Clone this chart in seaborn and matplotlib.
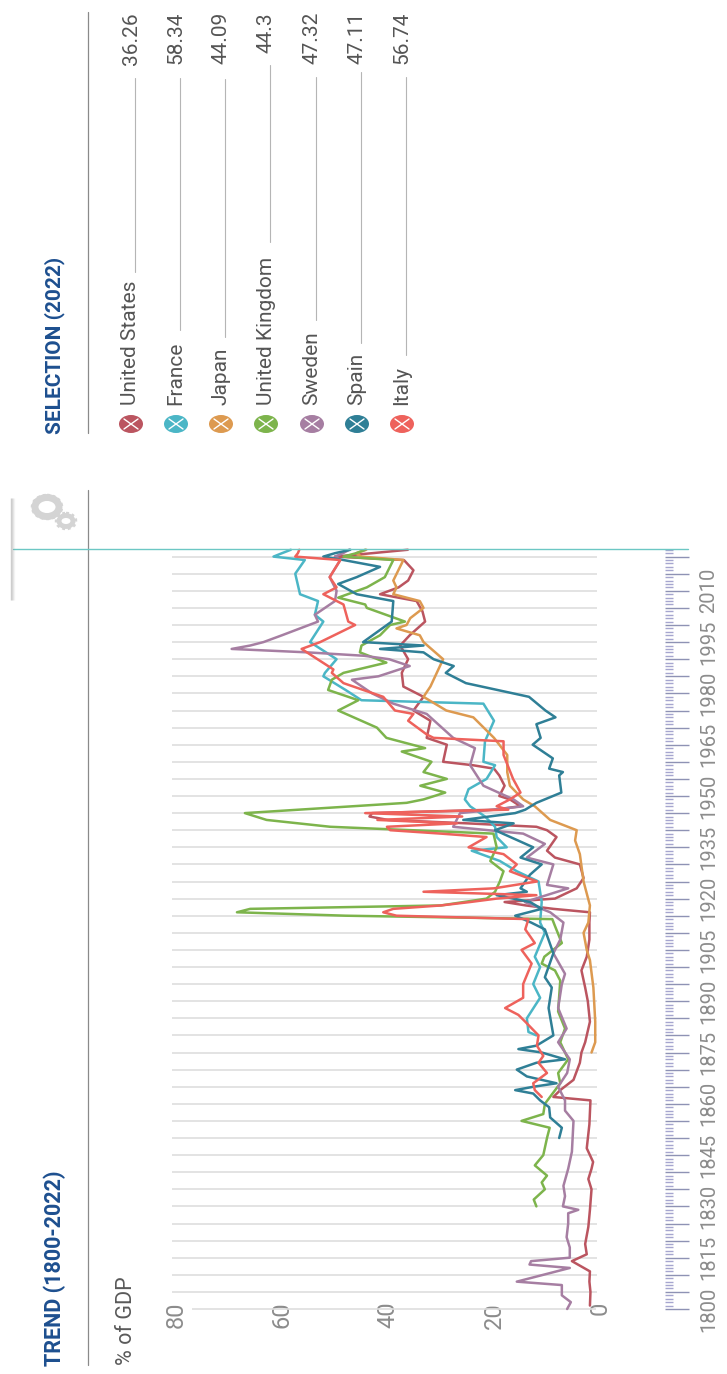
import matplotlib
matplotlib.use("Agg")
import numpy as np
import pandas as pd
import matplotlib.pyplot as plt
import seaborn as sns
from matplotlib.patches import Ellipse

# series, (year, % of GDP)
us_years = [1801, 1805, 1808, 1811, 1814, 1816, 1819, 1824, 1829, 1835, 1838, 1841, 1843, 1847, 1854, 1861, 1862, 1864, 1867, 1872, 1875, 1878, 1884, 1890, 1894, 1899, 1903, 1908, 1913, 1916, 1917, 1918, 1919, 1920, 1923, 1926, 1930, 1932, 1934, 1938, 1940, 1941, 1942, 1943, 1944, 1945, 1946, 1947, 1949, 1950, 1953, 1956, 1958, 1959, 1960, 1965, 1967, 1972, 1975, 1979, 1982, 1986, 1990, 1994, 1997, 2001, 2004, 2007, 2009, 2011, 2013, 2016, 2019, 2020, 2021, 2022]
us_vals = [1.9, 1.8, 2.0, 1.9, 5.3, 2.5, 2.8, 2.2, 1.9, 1.6, 2.2, 1.6, 1.3, 2.5, 2.0, 1.8, 8.8, 7.5, 5.0, 3.8, 3.5, 2.8, 1.9, 2.3, 2.8, 3.5, 2.5, 2.0, 2.0, 1.9, 8.8, 14, 18, 8.5, 4.4, 3.1, 3.8, 8.5, 10, 8.2, 10, 12, 25, 40, 43.5, 43, 20, 15, 17, 19, 18, 19, 20, 24, 29.6, 28.9, 32.7, 32, 35.2, 33.3, 37.1, 37.4, 36.2, 37.7, 35.9, 33, 33.5, 34.6, 41.5, 38, 36.2, 35.2, 37, 50, 43, 36.26]

france_years = [1880, 1881, 1885, 1891, 1895, 1900, 1903, 1910, 1913, 1919, 1925, 1928, 1931, 1934, 1935, 1938, 1941, 1944, 1947, 1949, 1952, 1955, 1959, 1960, 1966, 1972, 1977, 1978, 1981, 1985, 1986, 1990, 1995, 2001, 2003, 2007, 2009, 2015, 2019, 2020, 2021, 2022]
france_vals = [12, 13.5, 13.8, 11.3, 12.6, 11.3, 12.3, 10.4, 11.3, 11, 11.6, 15.7, 18.9, 24.2, 17.6, 19.5, 19.8, 21.7, 24.5, 25.5, 24.8, 21.4, 19.8, 22, 21.7, 20, 22, 45, 48, 52.2, 51.9, 49.7, 54.7, 52.2, 53.8, 53.2, 56.6, 57.5, 55.7, 61.6, 60, 58.34]

japan_years = [1875, 1878, 1884, 1894, 1902, 1905, 1910, 1913, 1918, 1925, 1933, 1937, 1940, 1943, 1947, 1949, 1953, 1957, 1962, 1967, 1973, 1975, 1979, 1982, 1986, 1990, 1995, 1997, 1999, 2000, 2002, 2005, 2007, 2009, 2011, 2013, 2019, 2020, 2021, 2022]
japan_vals = [1.6, 0.9, 0.9, 1.25, 1.9, 2.5, 3.1, 2.2, 1.9, 3.1, 3.8, 4.7, 4.4, 9.4, 12.3, 14.5, 17, 17.5, 17.5, 20, 23.9, 29, 33.3, 32, 30.8, 29.6, 33.3, 34, 38.4, 36.5, 35.8, 33.3, 34, 39, 38.4, 39, 37.1, 45, 46, 44.09]

uk_years = [1830, 1832, 1835, 1837, 1839, 1842, 1845, 1850, 1853, 1855, 1857, 1860, 1866, 1869, 1873, 1878, 1882, 1887, 1896, 1899, 1901, 1903, 1907, 1912, 1914, 1915, 1916, 1917, 1918, 1920, 1922, 1925, 1928, 1931, 1935, 1939, 1941, 1943, 1945, 1948, 1949, 1951, 1953, 1955, 1957, 1960, 1963, 1964, 1967, 1970, 1975, 1978, 1981, 1984, 1986, 1989, 1992, 1994, 1997, 2000, 2001, 2005, 2006, 2008, 2011, 2014, 2019, 2020, 2021, 2022]
uk_vals = [12, 12.5, 10.4, 11, 10, 12.3, 10.7, 10, 9.5, 14.8, 10.7, 10.4, 7.5, 7.9, 6, 7.5, 6.6, 7.9, 7.5, 8.5, 11, 10.5, 7.2, 8.5, 9, 48, 68.5, 66, 30, 21.4, 19.8, 18.9, 18.2, 20.7, 19.5, 20.1, 50.9, 62.9, 67, 36.5, 33.3, 29.2, 33.9, 28.9, 33.3, 31.8, 37.4, 33, 40.3, 42.1, 49.4, 45.6, 51.3, 50.6, 48.4, 40.3, 45.3, 45, 41.5, 39.6, 36.8, 44, 44.3, 49.4, 44, 40.6, 39, 48.4, 46, 44.3]

sweden_years = [1800, 1802, 1804, 1807, 1808, 1812, 1813, 1814, 1815, 1818, 1821, 1825, 1828, 1829, 1830, 1833, 1836, 1841, 1846, 1855, 1858, 1861, 1865, 1869, 1873, 1878, 1882, 1888, 1895, 1898, 1904, 1908, 1913, 1916, 1919, 1923, 1924, 1930, 1932, 1936, 1939, 1941, 1945, 1946, 1947, 1949, 1953, 1959, 1964, 1967, 1974, 1977, 1980, 1984, 1985, 1988, 1990, 1991, 1992, 1993, 1994, 1995, 1997, 1999, 2001, 2003, 2007, 2010, 2014, 2019, 2020, 2021, 2022]
sweden_vals = [6.2, 5.5, 7.2, 7.2, 15.7, 5.7, 13.3, 13, 5.7, 5.7, 6.3, 6, 6, 4.1, 7, 6.6, 6.9, 6, 5.3, 5, 6.6, 6.6, 7.9, 6.2, 5.7, 7.9, 6.3, 7.9, 7.2, 6.6, 8.8, 7.5, 6.9, 9.4, 14.2, 6, 10, 8.8, 13.8, 10.4, 14.5, 27.7, 26.4, 20, 14.5, 16.3, 22, 24.5, 23.6, 27.7, 32.7, 39, 43, 46.8, 41.8, 35.9, 39.8, 44.5, 55.2, 69.5, 66, 63.5, 60, 56.6, 53.2, 53.8, 50, 49.7, 51, 49, 50, 48.5, 47.32]

spain_years = [1850, 1853, 1856, 1859, 1861, 1863, 1864, 1865, 1866, 1868, 1870, 1872, 1873, 1875, 1876, 1877, 1880, 1888, 1894, 1897, 1904, 1911, 1913, 1915, 1917, 1919, 1921, 1922, 1923, 1927, 1930, 1932, 1935, 1940, 1942, 1943, 1945, 1946, 1948, 1951, 1956, 1957, 1958, 1961, 1965, 1967, 1971, 1973, 1975, 1979, 1983, 1986, 1988, 1990, 1992, 1993, 1994, 1995, 2001, 2007, 2009, 2012, 2014, 2017, 2019, 2020, 2021, 2022]
spain_vals = [7.7, 7.2, 9.4, 9.6, 11.3, 12.6, 16, 12.5, 8.2, 13.8, 15.7, 12, 6.6, 11, 15.4, 12, 8.8, 9.7, 9.1, 10.4, 8.8, 10.4, 13, 16, 11, 13.2, 19.5, 13.8, 15, 13.2, 11, 15, 12.6, 19.8, 16.3, 25.8, 16, 14.1, 12, 7.3, 7.7, 7, 9.6, 8.9, 12.7, 11.2, 12, 8.4, 10.3, 13.4, 25.3, 29.1, 27.6, 31.4, 33.3, 41.5, 33.3, 44.7, 39.3, 39, 45.9, 49.4, 45.9, 41.5, 48.4, 52.2, 50, 47.11]

italy_years = [1862, 1864, 1866, 1869, 1872, 1874, 1877, 1880, 1884, 1886, 1888, 1891, 1895, 1901, 1905, 1907, 1911, 1914, 1915, 1916, 1917, 1918, 1919, 1920, 1921, 1922, 1923, 1925, 1928, 1930, 1933, 1935, 1938, 1939, 1940, 1941, 1942, 1943, 1944, 1945, 1946, 1947, 1949, 1951, 1955, 1962, 1966, 1967, 1968, 1972, 1974, 1975, 1979, 1983, 1986, 1987, 1993, 1995, 2000, 2001, 2006, 2009, 2011, 2014, 2019, 2020, 2021, 2022]
italy_vals = [11, 12.3, 12.6, 10, 11.6, 10.7, 11.9, 11.6, 14.1, 15.4, 17.9, 14.5, 14.5, 12.9, 14.8, 12.3, 14.1, 13.5, 38.4, 40.9, 39, 30, 24.5, 19.5, 12, 33.3, 20, 11.9, 17, 15.7, 18.2, 24.8, 21.4, 30, 39.6, 40.2, 27, 42, 26, 44.3, 17.3, 19.5, 17, 15, 16.4, 18.2, 18.2, 31.4, 32.7, 36.2, 35.2, 38.7, 40.9, 48.4, 50.6, 50.3, 56.3, 52.8, 46.2, 47.5, 48.4, 52.2, 49.7, 51, 49, 57.5, 57, 56.74]

countries = ["United States", "France", "Japan", "United Kingdom", "Sweden", "Spain", "Italy"]
latest = ["36.26", "58.34", "44.09", "44.3", "47.32", "47.11", "56.74"]
colors = ["#bb5560", "#4bb6c6", "#dd9a50", "#7db44c", "#a67ea2", "#2f7f96", "#ee625c"]
value_ticks = [80, 60, 40, 20, 0]
year_ticks = list(range(1800, 2021, 5))
all_years = list(range(1800, 2023))

W, H = 727, 1374
PX_PER_PCT = 5.3
PX_PER_YEAR = 3.42
X0, Y1800 = 600, 1309

sns.set_theme(style="white")
plt.rcParams["font.family"] = ["Roboto", "DejaVu Sans"]

frames = []
series = [(us_years, us_vals), (france_years, france_vals), (japan_years, japan_vals), (uk_years, uk_vals),
          (sweden_years, sweden_vals), (spain_years, spain_vals), (italy_years, italy_vals)]
for name, (yrs, vals) in zip(countries, series):
    frames.append(pd.DataFrame({"year": yrs, "value": vals, "country": name}))
df = pd.concat(frames)

fig = plt.figure(figsize=(W / 100, H / 100), dpi=100)

# chart axes, placed in pixels of the picture; the whole thing reads rotated by 90 degrees
left, right, top, bottom = 165, 665, 540, 1315
ax = fig.add_axes([left / W, 1 - bottom / H, (right - left) / W, (bottom - top) / H])
ax.set_xlim((X0 - left) / PX_PER_PCT, (X0 - right) / PX_PER_PCT)
ax.set_ylim(1800 + (Y1800 - bottom) / PX_PER_YEAR, 1800 + (Y1800 - top) / PX_PER_YEAR)

ax.hlines(year_ticks[1:], 0.5, 80.8, color="#dedede", lw=1.2, zorder=1)
ax.hlines(1800, 0.7, 77, color="#dedede", lw=1.2, zorder=1)

sns.lineplot(data=df, x="value", y="year", hue="country", palette=colors, hue_order=countries,
             orient="y", estimator=None, lw=1.8, legend=False, ax=ax)

sns.despine(ax=ax, left=True, right=True, top=True, bottom=True)
ax.set_xlabel("")
ax.set_ylabel("")

ax.set_xticks(value_ticks)
ax.set_xticklabels([str(v) for v in value_ticks])
ax.tick_params(axis="x", length=0, labelrotation=90, pad=-9.5, labelsize=17, labelcolor="#8c8c8c")
for lab in ax.get_xticklabels():
    lab.set_bbox(dict(facecolor="white", edgecolor="none", pad=1.0))

ax.yaxis.tick_right()
ax.set_yticks(year_ticks)
ax.set_yticklabels([str(y) if (y - 1800) % 15 == 0 else "" for y in year_ticks], rotation=90, va="center")
ax.set_yticks(all_years, minor=True)
ax.tick_params(axis="y", which="major", length=17.5, width=1.0, color="#8e92b4", pad=7, labelsize=14.5, labelcolor="#8c8c8c", right=True)
ax.tick_params(axis="y", which="minor", length=6, width=1.0, color="#a6a6cf", right=True)

# overlay in pixel coordinates for the header, rules and the selection list
ov = fig.add_axes([0, 0, 1, 1], facecolor="none")
ov.set_xlim(0, W)
ov.set_ylim(H, 0)
ov.axis("off")

navy = "#1d4f8f"
ov.text(55, 1366, "TREND (1800-2022)", rotation=90, ha="center", va="bottom", color=navy,
        fontsize=15.5, fontweight="bold")
ov.text(55, 434, "SELECTION (2022)", rotation=90, ha="center", va="bottom", color=navy,
        fontsize=15, fontweight="bold")
ov.text(127, 1365, "% of GDP", rotation=90, ha="center", va="bottom", color="#5a5a5a", fontsize=15.5)

ov.plot([88, 88], [490, 1365], color="#8a8a8a", lw=0.9)
ov.plot([88, 88], [12, 433], color="#8a8a8a", lw=0.9)
ov.plot([13, 688], [549, 549], color="#6cc7c4", lw=1.0)

# settings tab shadow and gear icon
for dx, a in zip(range(4), [0.45, 0.3, 0.18, 0.08]):
    ov.plot([11 + dx, 11 + dx], [498, 600], color="#9a9a9a", alpha=a, lw=1.0, solid_capstyle="butt")
for cx, cy, w, h in [(47, 507, 24, 19), (66, 521, 14, 11)]:
    ov.add_patch(Ellipse((cx, cy), w, h, facecolor="white", edgecolor="#d4d4d4", lw=5 if w > 20 else 3.5))
    ov.add_patch(Ellipse((cx, cy), w + 5, h + 4, facecolor="none", edgecolor="#d4d4d4", lw=2.5, ls=(0, (0.8, 0.8))))

# selection list
rows_x = [131, 176, 221, 266, 312, 357, 402]
rule_spans = [(78, 272), (78, 330), (79, 337), (65, 242), (77, 320), (72, 343), (77, 355)]
for name, val, col, x, (y0, y1) in zip(countries, latest, colors, rows_x, rule_spans):
    ov.add_patch(Ellipse((x, 424), 24, 18, facecolor=col, edgecolor="none"))
    ov.plot([x - 7, x + 7], [419, 429], color="white", lw=1.0)
    ov.plot([x - 7, x + 7], [429, 419], color="white", lw=1.0)
    ov.text(x, 405, name, rotation=90, ha="center", va="bottom", color="#555555", fontsize=15)
    ov.text(x, 12, val, rotation=90, ha="center", va="top", color="#555555", fontsize=15)
    ov.plot([x + 4, x + 4], [y0, y1], color="#b5b5b5", lw=0.8)

fig.savefig("out.png", dpi=100)
